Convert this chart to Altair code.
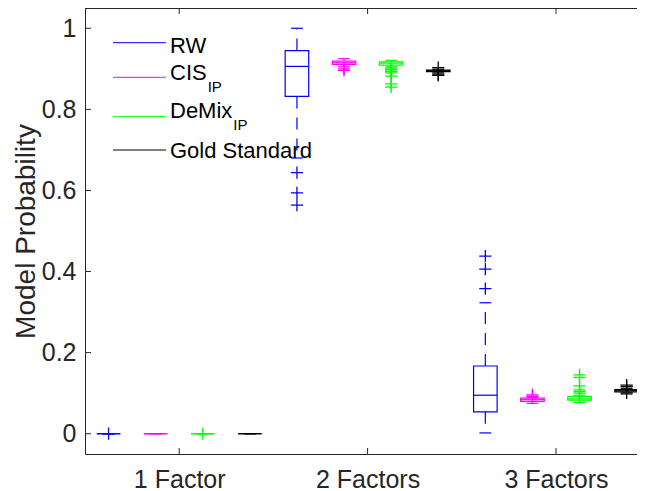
import altair as alt
import pandas as pd

# ---------------- data ----------------
groups = ["1 Factor", "2 Factors", "3 Factors"]
group_ticks = [2.5, 6.5, 10.5]
methods = ["RW", "CIS_IP", "DeMix_IP", "Gold Standard"]
colors = ["#0000FF", "#FF00FF", "#00FF00", "#000000"]

positions = list(range(1, 13))
box_method = methods * 3
# box statistics (per box, position order)
lo  = [0.0, 0.0, 0.0, 0.0,   0.680, 0.905, 0.905, 0.890,   0.002, 0.075, 0.077, 0.098]
q1  = [0.0, 0.0, 0.0, 0.0,   0.832, 0.911, 0.909, 0.893,   0.054, 0.080, 0.083, 0.103]
med = [0.0, 0.0, 0.0, 0.0,   0.906, 0.915, 0.914, 0.895,   0.095, 0.084, 0.086, 0.106]
q3  = [0.0, 0.0, 0.0, 0.0,   0.945, 0.919, 0.917, 0.897,   0.167, 0.088, 0.092, 0.109]
hi  = [0.0, 0.0, 0.0, 0.0,   1.000, 0.925, 0.921, 0.899,   0.323, 0.090, 0.095, 0.112]

outlier_pos = [1, 3,
               5, 5, 5,
               6, 6,
               7, 7, 7, 7, 7, 7, 7,
               8, 8, 8,
               9, 9, 9,
               10, 10,
               11, 11, 11, 11, 11, 11,
               12, 12, 12]
outlier_val = [0.0, 0.0,
               0.644, 0.594, 0.564,
               0.900, 0.896,
               0.902, 0.898, 0.894, 0.890, 0.882, 0.863, 0.855,
               0.903, 0.887, 0.884,
               0.358, 0.406, 0.438,
               0.092, 0.096,
               0.100, 0.104, 0.108, 0.118, 0.139, 0.145,
               0.116, 0.120, 0.101]

y_ticks = [0, 0.2, 0.4, 0.6, 0.8, 1.0]

# ---------------- tables ----------------
box_df = pd.DataFrame({"pos": positions, "method": box_method,
                       "lo": lo, "q1": q1, "med": med, "q3": q3, "hi": hi})
out_df = pd.DataFrame({"pos": outlier_pos,
                       "val": outlier_val,
                       "method": [methods[(p - 1) % 4] for p in outlier_pos]})

AX = "#262626"
FONT = "Liberation Sans"
W, H = 552, 446
xscale = alt.Scale(domain=[0.5, 12.22], nice=False, zero=False)
yscale = alt.Scale(domain=[-0.05, 1.05], nice=False, zero=False)
cscale = alt.Scale(domain=methods, range=colors)
col = alt.Color("method:N", scale=cscale, legend=None)

x_axis = alt.Axis(values=group_ticks, title=None, tickSize=0, grid=False,
                  labelExpr="datum.value < 4 ? '1 Factor' : datum.value < 8 ? '2 Factors' : '3 Factors'",
                  labelPadding=13, domainColor=AX, domainWidth=1)
y_axis = alt.Axis(values=y_ticks, title="Model Probability", tickSize=0, grid=False,
                  format="~g", labelPadding=9, domainColor=AX, domainWidth=1,
                  titleX=-51, titleBaseline="alphabetic")


def X(f):
    return alt.X(f, scale=xscale, axis=x_axis)


def Y(f):
    return alt.Y(f, scale=yscale, axis=y_axis)


base = alt.Chart(box_df).transform_calculate(
    xl="datum.pos - 0.25", xr="datum.pos + 0.25",
    cl="datum.pos - 0.125", cr="datum.pos + 0.125")

boxes = base.mark_rect(fillOpacity=0, strokeWidth=1.2).encode(
    x=X("xl:Q"), x2="xr:Q", y=Y("q1:Q"), y2="q3:Q", stroke=col)

medians = base.mark_rule(strokeWidth=1.2).encode(
    x=X("xl:Q"), x2="xr:Q", y=Y("med:Q"), color=col)

wh_up = base.mark_rule(strokeWidth=1.2, strokeDash=[12, 9]).encode(
    x=X("pos:Q"), y=Y("q3:Q"), y2="hi:Q", color=col)
wh_lo = base.mark_rule(strokeWidth=1.2, strokeDash=[12, 9]).encode(
    x=X("pos:Q"), y=Y("q1:Q"), y2="lo:Q", color=col)

cap_hi = base.mark_rule(strokeWidth=1.2).encode(
    x=X("cl:Q"), x2="cr:Q", y=Y("hi:Q"), color=col)
cap_lo = base.mark_rule(strokeWidth=1.2).encode(
    x=X("cl:Q"), x2="cr:Q", y=Y("lo:Q"), color=col)

outl = alt.Chart(out_df).mark_point(shape="M-1,0H1M0,-1V1", size=150,
                                    filled=False, strokeWidth=1.3, opacity=1).encode(
    x=X("pos:Q"), y=Y("val:Q"), color=col)

# ---------------- frame ticks (inward, MATLAB style) ----------------
yt_df = pd.DataFrame({"t": y_ticks})
xt_df = pd.DataFrame({"t": group_ticks})
one = pd.DataFrame({"k": [0]})

lt = alt.Chart(yt_df).mark_rule(color=AX, strokeWidth=1).encode(
    y=Y("t:Q"), x=alt.value(0), x2=alt.value(6))
bt = alt.Chart(xt_df).mark_rule(color=AX, strokeWidth=1).encode(
    x=X("t:Q"), y=alt.value(H), y2=alt.value(H - 6))
tt = alt.Chart(xt_df).mark_rule(color=AX, strokeWidth=1).encode(
    x=X("t:Q"), y=alt.value(0), y2=alt.value(6))
top_line = alt.Chart(one).mark_rule(color=AX, strokeWidth=1).encode(
    x=alt.value(0), x2=alt.value(W), y=alt.value(0.5))

# ---------------- legend (manual) ----------------
LF = 22
leg_layers = []
line_y = [34.7, 69.3, 108.7, 142.0]
main_txt = ["RW", "CIS", "DeMix", "Gold Standard"]
main_w_em = [1.667, 1.667, 2.833, 6.448]   # Arial-metric text widths (em)
main_base = [45, 72, 110, 150]
has_sub = [False, True, True, False]
sub_base = [None, 84, 122, None]
for i in range(4):
    leg_layers.append(alt.Chart(one).mark_rule(color=colors[i], strokeWidth=1).encode(
        x=alt.value(28), x2=alt.value(81), y=alt.value(line_y[i])))
    leg_layers.append(alt.Chart(one).mark_text(
        text=main_txt[i], align="left", baseline="alphabetic", font=FONT,
        fontSize=LF, color="#000000").encode(x=alt.value(85), y=alt.value(main_base[i])))
    if has_sub[i]:
        leg_layers.append(alt.Chart(one).mark_text(
            text="IP", align="left", baseline="alphabetic", font=FONT,
            fontSize=15, color="#000000").encode(
                x=alt.value(85 + main_w_em[i] * LF + 1), y=alt.value(sub_base[i])))

chart = alt.layer(boxes, medians, wh_up, wh_lo, cap_hi, cap_lo, outl,
                  lt, bt, tt, top_line, *leg_layers).properties(
    width=W, height=H,
    autosize=alt.AutoSizeParams(type="none"),
    padding={"left": 77, "top": 0, "right": 0, "bottom": 37},
).configure_view(stroke=None).configure_axis(
    labelFont=FONT, labelFontSize=25, labelColor=AX,
    titleFont=FONT, titleFontSize=28, titleFontWeight="normal", titleColor=AX,
)

chart.save("out.html", embed_options={"renderer": "svg", "actions": False})
